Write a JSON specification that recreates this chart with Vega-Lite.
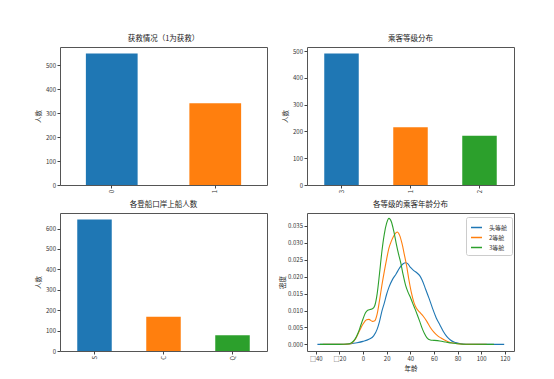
{
  "$schema": "https://vega.github.io/schema/vega-lite/v6.json",
  "background": "white",
  "padding": {"left": 35, "top": 34, "right": 5, "bottom": 5},
  "datasets": {
    "survived": [{"k": "0", "n": 549}, {"k": "1", "n": 342}],
    "pclass": [{"k": "3", "n": 491}, {"k": "1", "n": 216}, {"k": "2", "n": 184}],
    "embarked": [{"k": "S", "n": 644}, {"k": "C", "n": 168}, {"k": "Q", "n": 77}],
    "kde": [
      {"cls": "头等舱", "age": -38.6, "d": 0},
      {"cls": "头等舱", "age": -25, "d": 0},
      {"cls": "头等舱", "age": -15, "d": 0.00005},
      {"cls": "头等舱", "age": -10, "d": 0.0002},
      {"cls": "头等舱", "age": -5, "d": 0.0005},
      {"cls": "头等舱", "age": 0, "d": 0.0009},
      {"cls": "头等舱", "age": 5, "d": 0.0015},
      {"cls": "头等舱", "age": 9, "d": 0.0025},
      {"cls": "头等舱", "age": 12, "d": 0.0045},
      {"cls": "头等舱", "age": 14, "d": 0.0068},
      {"cls": "头等舱", "age": 16, "d": 0.0098},
      {"cls": "头等舱", "age": 18, "d": 0.0122},
      {"cls": "头等舱", "age": 20, "d": 0.0148},
      {"cls": "头等舱", "age": 22, "d": 0.0169},
      {"cls": "头等舱", "age": 25, "d": 0.0192},
      {"cls": "头等舱", "age": 28, "d": 0.0208},
      {"cls": "头等舱", "age": 31, "d": 0.0226},
      {"cls": "头等舱", "age": 34, "d": 0.0238},
      {"cls": "头等舱", "age": 36, "d": 0.0241},
      {"cls": "头等舱", "age": 38, "d": 0.0238},
      {"cls": "头等舱", "age": 40, "d": 0.0228},
      {"cls": "头等舱", "age": 43, "d": 0.0218},
      {"cls": "头等舱", "age": 46, "d": 0.0210},
      {"cls": "头等舱", "age": 48, "d": 0.0203},
      {"cls": "头等舱", "age": 50, "d": 0.0190},
      {"cls": "头等舱", "age": 53, "d": 0.0163},
      {"cls": "头等舱", "age": 56, "d": 0.0135},
      {"cls": "头等舱", "age": 59, "d": 0.0105},
      {"cls": "头等舱", "age": 62, "d": 0.0078},
      {"cls": "头等舱", "age": 65, "d": 0.0058},
      {"cls": "头等舱", "age": 68, "d": 0.0038},
      {"cls": "头等舱", "age": 71, "d": 0.0023},
      {"cls": "头等舱", "age": 74, "d": 0.0013},
      {"cls": "头等舱", "age": 77, "d": 0.0007},
      {"cls": "头等舱", "age": 80, "d": 0.0004},
      {"cls": "头等舱", "age": 85, "d": 0.0001},
      {"cls": "头等舱", "age": 90, "d": 0.00003},
      {"cls": "头等舱", "age": 100, "d": 0},
      {"cls": "头等舱", "age": 119.5, "d": 0},
      {"cls": "2等舱", "age": -34, "d": 0},
      {"cls": "2等舱", "age": -20, "d": 0},
      {"cls": "2等舱", "age": -12, "d": 0.0001},
      {"cls": "2等舱", "age": -9, "d": 0.0005},
      {"cls": "2等舱", "age": -6, "d": 0.0018},
      {"cls": "2等舱", "age": -3, "d": 0.0040},
      {"cls": "2等舱", "age": 0, "d": 0.0060},
      {"cls": "2等舱", "age": 3, "d": 0.0073},
      {"cls": "2等舱", "age": 5, "d": 0.0074},
      {"cls": "2等舱", "age": 8, "d": 0.0068},
      {"cls": "2等舱", "age": 10, "d": 0.0070},
      {"cls": "2等舱", "age": 12, "d": 0.0090},
      {"cls": "2等舱", "age": 14, "d": 0.0130},
      {"cls": "2等舱", "age": 16, "d": 0.0175},
      {"cls": "2等舱", "age": 18, "d": 0.0215},
      {"cls": "2等舱", "age": 20, "d": 0.0252},
      {"cls": "2等舱", "age": 22, "d": 0.0285},
      {"cls": "2等舱", "age": 24, "d": 0.0305},
      {"cls": "2等舱", "age": 26, "d": 0.0320},
      {"cls": "2等舱", "age": 28, "d": 0.0330},
      {"cls": "2等舱", "age": 29, "d": 0.0332},
      {"cls": "2等舱", "age": 31, "d": 0.0322},
      {"cls": "2等舱", "age": 33, "d": 0.0298},
      {"cls": "2等舱", "age": 35, "d": 0.0265},
      {"cls": "2等舱", "age": 37, "d": 0.0230},
      {"cls": "2等舱", "age": 39, "d": 0.0188},
      {"cls": "2等舱", "age": 41, "d": 0.0152},
      {"cls": "2等舱", "age": 43, "d": 0.0125},
      {"cls": "2等舱", "age": 45, "d": 0.0108},
      {"cls": "2等舱", "age": 48, "d": 0.0095},
      {"cls": "2等舱", "age": 51, "d": 0.0083},
      {"cls": "2等舱", "age": 54, "d": 0.0068},
      {"cls": "2等舱", "age": 57, "d": 0.0050},
      {"cls": "2等舱", "age": 60, "d": 0.0036},
      {"cls": "2等舱", "age": 63, "d": 0.0026},
      {"cls": "2等舱", "age": 66, "d": 0.0019},
      {"cls": "2等舱", "age": 69, "d": 0.0013},
      {"cls": "2等舱", "age": 72, "d": 0.0008},
      {"cls": "2等舱", "age": 76, "d": 0.0004},
      {"cls": "2等舱", "age": 80, "d": 0.0002},
      {"cls": "2等舱", "age": 90, "d": 0},
      {"cls": "2等舱", "age": 104.7, "d": 0},
      {"cls": "3等舱", "age": -36.4, "d": 0},
      {"cls": "3等舱", "age": -20, "d": 0},
      {"cls": "3等舱", "age": -13, "d": 0.0001},
      {"cls": "3等舱", "age": -10, "d": 0.0004},
      {"cls": "3等舱", "age": -7, "d": 0.0014},
      {"cls": "3等舱", "age": -4, "d": 0.0035},
      {"cls": "3等舱", "age": -2, "d": 0.0055},
      {"cls": "3等舱", "age": 0, "d": 0.0075},
      {"cls": "3等舱", "age": 2, "d": 0.0093},
      {"cls": "3等舱", "age": 4, "d": 0.0101},
      {"cls": "3等舱", "age": 6, "d": 0.0103},
      {"cls": "3等舱", "age": 8, "d": 0.0105},
      {"cls": "3等舱", "age": 10, "d": 0.0115},
      {"cls": "3等舱", "age": 12, "d": 0.0150},
      {"cls": "3等舱", "age": 14, "d": 0.0210},
      {"cls": "3等舱", "age": 16, "d": 0.0275},
      {"cls": "3等舱", "age": 18, "d": 0.0325},
      {"cls": "3等舱", "age": 20, "d": 0.0358},
      {"cls": "3等舱", "age": 22, "d": 0.0372},
      {"cls": "3等舱", "age": 24, "d": 0.0362},
      {"cls": "3等舱", "age": 26, "d": 0.0335},
      {"cls": "3等舱", "age": 28, "d": 0.0300},
      {"cls": "3等舱", "age": 30, "d": 0.0268},
      {"cls": "3等舱", "age": 32, "d": 0.0240},
      {"cls": "3等舱", "age": 34, "d": 0.0205},
      {"cls": "3等舱", "age": 36, "d": 0.0175},
      {"cls": "3等舱", "age": 38, "d": 0.0155},
      {"cls": "3等舱", "age": 40, "d": 0.0140},
      {"cls": "3等舱", "age": 42, "d": 0.0122},
      {"cls": "3等舱", "age": 44, "d": 0.0105},
      {"cls": "3等舱", "age": 46, "d": 0.0087},
      {"cls": "3等舱", "age": 48, "d": 0.0068},
      {"cls": "3等舱", "age": 50, "d": 0.0048},
      {"cls": "3等舱", "age": 52, "d": 0.0032},
      {"cls": "3等舱", "age": 54, "d": 0.0020},
      {"cls": "3等舱", "age": 57, "d": 0.0013},
      {"cls": "3等舱", "age": 60, "d": 0.0012},
      {"cls": "3等舱", "age": 65, "d": 0.0010},
      {"cls": "3等舱", "age": 70, "d": 0.0007},
      {"cls": "3等舱", "age": 75, "d": 0.0004},
      {"cls": "3等舱", "age": 80, "d": 0.0002},
      {"cls": "3等舱", "age": 90, "d": 0.00003},
      {"cls": "3等舱", "age": 110.8, "d": 0}
    ]
  },
  "columns": 2,
  "spacing": {"row": 28, "column": 40},
  "bounds": "flush",
  "resolve": {"scale": {"color": "independent", "x": "independent", "y": "independent"}},
  "concat": [
    {
      "width": 207, "height": 138,
      "title": "获救情况（1为获救）",
      "data": {"name": "survived"},
      "mark": {"type": "bar"},
      "encoding": {
        "x": {"field": "k", "type": "nominal", "sort": null, "scale": {"paddingInner": 0.5, "paddingOuter": 0.25}, "axis": {"title": null, "labelAngle": -90}},
        "y": {"field": "n", "type": "quantitative", "scale": {"domain": [0, 576.45], "nice": false}, "axis": {"title": "人数", "values": [0, 100, 200, 300, 400, 500]}},
        "color": {"field": "k", "type": "nominal", "scale": {"domain": ["0", "1"], "range": ["#1f77b4", "#ff7f0e"]}, "legend": null}
      }
    },
    {
      "width": 207, "height": 138,
      "title": "乘客等级分布",
      "data": {"name": "pclass"},
      "mark": {"type": "bar"},
      "encoding": {
        "x": {"field": "k", "type": "nominal", "sort": null, "scale": {"paddingInner": 0.5, "paddingOuter": 0.25}, "axis": {"title": null, "labelAngle": -90}},
        "y": {"field": "n", "type": "quantitative", "scale": {"domain": [0, 515.55], "nice": false}, "axis": {"title": "人数", "values": [0, 100, 200, 300, 400, 500]}},
        "color": {"field": "k", "type": "nominal", "scale": {"domain": ["3", "1", "2"], "range": ["#1f77b4", "#ff7f0e", "#2ca02c"]}, "legend": null}
      }
    },
    {
      "width": 207, "height": 138,
      "title": "各登船口岸上船人数",
      "data": {"name": "embarked"},
      "mark": {"type": "bar"},
      "encoding": {
        "x": {"field": "k", "type": "nominal", "sort": null, "scale": {"paddingInner": 0.5, "paddingOuter": 0.25}, "axis": {"title": null, "labelAngle": -90}},
        "y": {"field": "n", "type": "quantitative", "scale": {"domain": [0, 676.2], "nice": false}, "axis": {"title": "人数", "values": [0, 100, 200, 300, 400, 500, 600]}},
        "color": {"field": "k", "type": "nominal", "scale": {"domain": ["S", "C", "Q"], "range": ["#1f77b4", "#ff7f0e", "#2ca02c"]}, "legend": null}
      }
    },
    {
      "width": 207, "height": 138,
      "title": "各等级的乘客年龄分布",
      "data": {"name": "kde"},
      "mark": {"type": "line", "interpolate": "monotone", "strokeWidth": 1.1},
      "encoding": {
        "x": {"field": "age", "type": "quantitative", "scale": {"domain": [-47.4, 127.8], "nice": false, "zero": false}, "axis": {"title": "年龄", "titlePadding": 3.5, "values": [-40, -20, 0, 20, 40, 60, 80, 100, 120], "labelExpr": "datum.value < 0 ? '□' + abs(datum.value) : datum.label"}},
        "y": {"field": "d", "type": "quantitative", "scale": {"domain": [-0.00195, 0.0388], "nice": false, "zero": false}, "axis": {"title": "密度", "titlePadding": 2, "format": ".3f", "values": [0, 0.005, 0.01, 0.015, 0.02, 0.025, 0.03, 0.035]}},
        "color": {"field": "cls", "type": "nominal", "sort": null, "scale": {"domain": ["头等舱", "2等舱", "3等舱"], "range": ["#1f77b4", "#ff7f0e", "#2ca02c"]},
          "legend": {"title": null, "orient": "none", "legendX": 159, "legendY": 4, "fillColor": "white", "strokeColor": "#cccccc", "padding": 4, "cornerRadius": 2, "symbolType": "stroke", "symbolSize": 120, "symbolStrokeWidth": 1.5, "labelFontSize": 6, "labelOffset": 6, "rowPadding": 0}}
      }
    }
  ],
  "config": {
    "font": "Noto Sans CJK SC",
    "view": {"stroke": "#555555", "strokeWidth": 1},
    "axis": {"domain": false, "grid": false, "tickColor": "#444444", "tickSize": 3, "labelFontSize": 6, "labelColor": "#333333", "labelPadding": 1.5, "titleFontSize": 6.5, "titleFontWeight": "normal", "titleColor": "#222222", "titlePadding": 4},
    "title": {"fontSize": 7.5, "fontWeight": "normal", "offset": 5, "color": "#222222"},
    "legend": {"labelColor": "#333333"}
  }
}
